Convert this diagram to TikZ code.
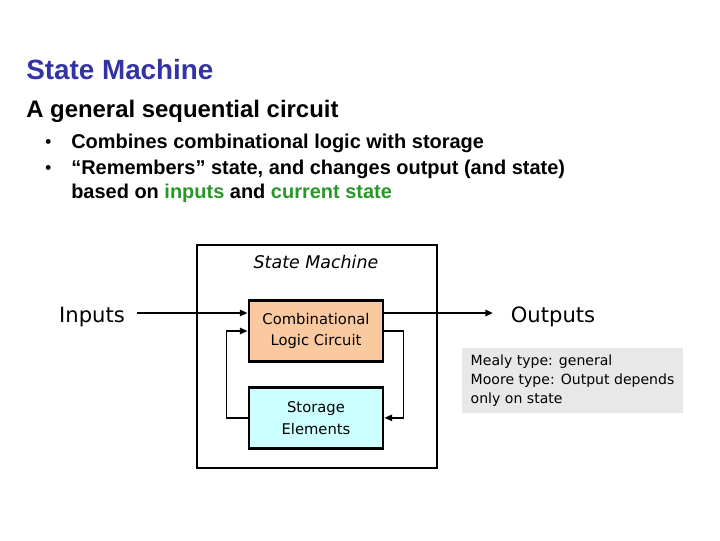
\documentclass[tikz,border=0pt]{standalone}
\usepackage{fontspec}
\setmainfont{Liberation Sans}
\newfontfamily\tahoma{DejaVu Sans}
\usetikzlibrary{arrows.meta,positioning}
\definecolor{SlideBlue}{HTML}{3333A6}
\definecolor{SlideGreen}{HTML}{2A962A}
\definecolor{LogicPeach}{HTML}{FBC9A0}
\definecolor{StoreCyan}{HTML}{CCFFFF}
\definecolor{NoteGray}{HTML}{E8E8E8}

\begin{document}
\begin{tikzpicture}[x=0.025cm,y=-0.025cm]
    \tikzset{txt/.style={anchor=base west,inner sep=0pt,font=\bfseries\fontsize{14.2}{17}\selectfont},
      blk/.style={draw,line width=2pt,minimum width=3.35cm,minimum height=1.525cm,align=center,
      inner sep=0pt,font=\tahoma\fontsize{10.5}{15.5}\selectfont},
      lbl/.style={anchor=base,inner sep=0pt,font=\tahoma\fontsize{15}{18}\selectfont},
      arr/.style={-{Triangle[length=5.5pt,width=4.5pt]}},
      fb/.style={arr,line width=1.3pt}}
    \useasboundingbox (0,0) rectangle (720,540);
    % slide text
    \node[txt,font=\bfseries\fontsize{19.8}{22}\selectfont,text=SlideBlue] (title) at (26,79) {State Machine};
    \node[txt,font=\bfseries\fontsize{17}{20}\selectfont] (sub) at (26,117) {A general sequential circuit};
    \node[txt,font=\bfseries\fontsize{12}{14}\selectfont] (d1) at (45,147) {\textbullet};
    \node[txt] (b1) at (71,148) {Combines combinational logic with storage};
    \node[txt,font=\bfseries\fontsize{12}{14}\selectfont] (d2) at (45,173) {\textbullet};
    \node[txt] (b2) at (71,174) {“Remembers” state, and changes output (and state)};
    \node[txt] (b3) at (71,198) {based on \textcolor{SlideGreen}{inputs} and \textcolor{SlideGreen}{current state}};
    % the machine
    \draw[line width=2pt] (197,245) rectangle (437,468);
    \node[lbl,font=\tahoma\itshape\fontsize{12.4}{15}\selectfont] (sm) at (316,268) {State Machine};
    \node[blk,fill=LogicPeach] (clc) at (316,331) {Combinational\\Logic Circuit};
    \node[blk,fill=StoreCyan,below=0.575cm of clc] (sto) {Storage\\Elements};
    \node[lbl] (inp) at (92,322) {Inputs};
    \node[lbl] (outp) at (553,322) {Outputs};
    \coordinate (in) at (137,313);
    \coordinate (out) at (493,313);
    \draw[arr,line width=2pt] (in) -- (clc.west |- in);
    \draw[arr,line width=2pt] (clc.east |- out) -- (out);
    \draw[fb] (sto.west) -- ++(-21,0) |- (clc.west);
    \draw[fb] (clc.east) -- ++(19,0) |- (sto.east);
    \node[anchor=north west,fill=NoteGray,minimum width=5.5cm,minimum height=1.625cm,align=left,
      inner xsep=6pt,inner ysep=4pt,font=\tahoma\fontsize{10}{13.5}\selectfont] (note) at (462,348)
      {Mealy type: general\\Moore type: Output depends\\only on state};
\end{tikzpicture}
\end{document}
